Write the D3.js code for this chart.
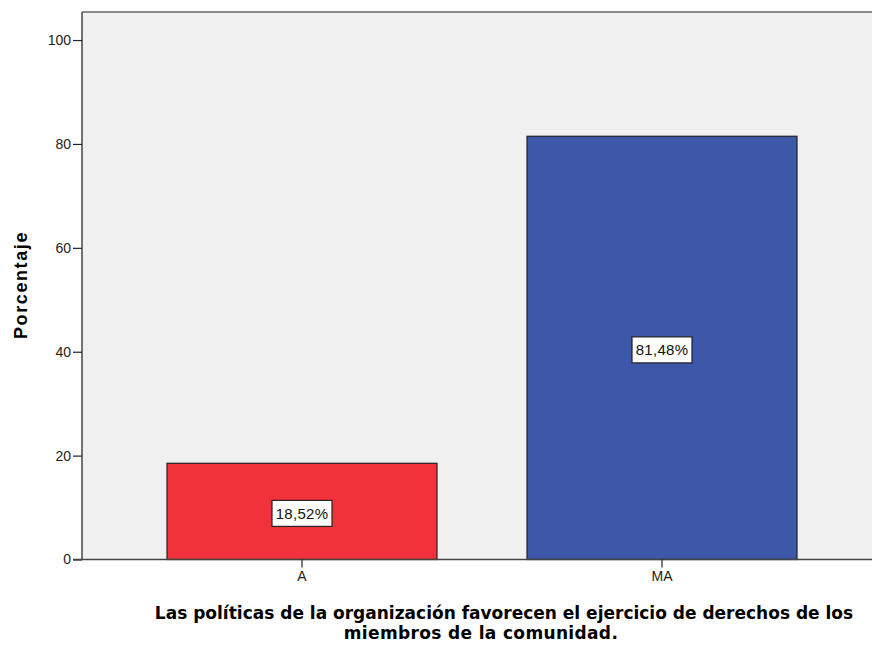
<!DOCTYPE html>
<html>
<head>
<meta charset="utf-8">
<script src="https://cdn.jsdelivr.net/npm/d3@7"></script>
<style>
  body { margin: 0; background: #fff; }
  text { font-family: "Liberation Sans", Arial, sans-serif; }
</style>
</head>
<body>
<svg id="mysvg" width="872" height="650"></svg>
<script>
// Data
const categories = ["A", "MA"];
const percentages = [18.52, 81.48];
const barLabels = ["18,52%", "81,48%"];
const barColors = ["#f1323b", "#3e58a9"];
const yTicks = [0, 20, 40, 60, 80, 100];
const xTitleLines = [
  "Las políticas de la organización favorecen el ejercicio de derechos de los",
  "miembros de la comunidad."
];

const plot = { left: 82, top: 12, right: 872, bottom: 559.5 };

const svg = d3.select("#mysvg");

// plot background
svg.append("rect")
  .attr("x", plot.left)
  .attr("y", plot.top)
  .attr("width", plot.right - plot.left)
  .attr("height", plot.bottom - plot.top)
  .attr("fill", "#f0f0f0");

// scales
const y = d3.scaleLinear().domain([0, 105.4]).range([plot.bottom, plot.top]);
const x = d3.scaleBand()
  .domain(categories)
  .range([122, 842])
  .paddingInner(0.25)
  .paddingOuter(0.125);

const data = categories.map((c, i) => ({
  cat: c, value: percentages[i], label: barLabels[i], color: barColors[i]
}));

// bars
svg.selectAll(".bar")
  .data(data)
  .join("rect")
  .attr("class", "bar")
  .attr("x", (d) => x(d.cat))
  .attr("y", (d) => y(d.value))
  .attr("width", x.bandwidth())
  .attr("height", (d) => y(0) - y(d.value))
  .attr("fill", (d) => d.color)
  .attr("stroke", "#222")
  .attr("stroke-width", 1.2);

// top border
svg.append("line")
  .attr("x1", plot.left).attr("x2", plot.right)
  .attr("y1", plot.top).attr("y2", plot.top)
  .attr("stroke", "#8a8a8a").attr("stroke-width", 2);

// Y axis
svg.append("g")
  .attr("transform", `translate(${plot.left},0)`)
  .call(d3.axisLeft(y).tickValues(yTicks).tickSize(9).tickPadding(2).tickSizeOuter(0))
  .call((g) => g.select(".domain").attr("stroke", "#444").attr("stroke-width", 1.5)
    .attr("d", `M0,${plot.top}V${plot.bottom}`))
  .call((g) => g.selectAll(".tick line").attr("stroke", "#222").attr("stroke-width", 1.2))
  .call((g) => g.selectAll(".tick text").attr("fill", "#222").style("font-size", "14px")
    .style("font-family", "Liberation Sans, Arial, sans-serif"));

// X axis
svg.append("g")
  .attr("transform", `translate(0,${plot.bottom})`)
  .call(d3.axisBottom(x).tickSize(8).tickPadding(4).tickSizeOuter(0))
  .call((g) => g.select(".domain").attr("stroke", "#444").attr("stroke-width", 1.5)
    .attr("d", `M${plot.left - 9},0H${plot.right}`))
  .call((g) => g.selectAll(".tick line").attr("stroke", "#222").attr("stroke-width", 1.2))
  .call((g) => g.selectAll(".tick text").attr("fill", "#222").style("font-size", "14px")
    .style("font-family", "Liberation Sans, Arial, sans-serif"));

// value labels
const labels = svg.selectAll(".vlabel")
  .data(data)
  .join("g")
  .attr("class", "vlabel")
  .attr("transform", (d) => `translate(${x(d.cat) + x.bandwidth() / 2},${(y(d.value) + y(0)) / 2 + 2})`);

labels.append("rect")
  .attr("x", -30).attr("y", -13)
  .attr("width", 60).attr("height", 26)
  .attr("fill", "#fff")
  .attr("stroke", "#222")
  .attr("stroke-width", 1.2);

labels.append("text")
  .attr("text-anchor", "middle")
  .attr("dy", "0.36em")
  .style("font-size", "15px")
  .style("letter-spacing", "0.3px")
  .attr("fill", "#111")
  .text((d) => d.label);

// Y axis title
svg.append("text")
  .attr("transform", `translate(27,285) rotate(-90)`)
  .attr("text-anchor", "middle")
  .style("font-size", "18px")
  .style("font-weight", "bold")
  .style("letter-spacing", "1.6px")
  .text("Porcentaje");

// X axis title (SPSS wraps it slightly off-centre)
const titleCenters = [504, 481];
svg.selectAll(".xtitle")
  .data(xTitleLines)
  .join("text")
  .attr("class", "xtitle")
  .attr("x", (d, i) => titleCenters[i])
  .attr("y", (d, i) => 619 + i * 20)
  .attr("text-anchor", "middle")
  .style("font-family", "DejaVu Sans, sans-serif")
  .style("font-size", "17px")
  .style("font-weight", "bold")
  .style("letter-spacing", (d, i) => (i === 1 ? "0.35px" : "0px"))
  .text((d) => d);
</script>
</body>
</html>
